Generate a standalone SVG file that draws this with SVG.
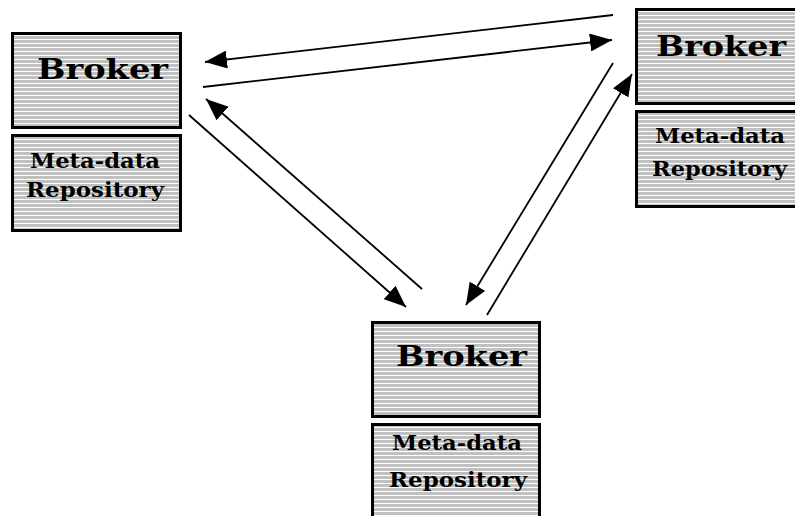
<svg xmlns="http://www.w3.org/2000/svg" width="795" height="516" viewBox="0 0 795 516">
  <defs>
    <!-- horizontal hatching used to fill every box -->
    <pattern id="stripes" patternUnits="userSpaceOnUse" width="4" height="4">
      <rect x="0" y="0" width="4" height="4" fill="#c0c0c0"/>
      <rect x="0" y="3" width="4" height="1" fill="#ffffff"/>
    </pattern>
    <marker id="head" viewBox="0 0 22 18" refX="22" refY="9" markerWidth="22" markerHeight="18" markerUnits="userSpaceOnUse" orient="auto">
      <path d="M0,0 L22,9 L0,18 Z" fill="#000"/>
    </marker>
    <style>
      .box { fill: url(#stripes); stroke: #000; stroke-width: 3; }
      .title { font-family: "DejaVu Serif", "Liberation Serif", serif; font-weight: bold; font-size: 28px; fill: #000; }
      .sub { font-family: "DejaVu Serif", "Liberation Serif", serif; font-weight: bold; font-size: 20px; fill: #000; }
      .link { stroke: #000; stroke-width: 1.8; fill: none; marker-end: url(#head); }
    </style>
  </defs>

  <rect width="795" height="516" fill="#ffffff"/>

  <!-- left broker -->
  <g id="broker-left">
    <rect class="box" x="12.5" y="33.5" width="168" height="94"/>
    <text class="title" x="37" y="79" textLength="131" lengthAdjust="spacingAndGlyphs">Broker</text>
    <rect class="box" x="12.5" y="135.5" width="168" height="95"/>
    <text class="sub" x="30" y="168" textLength="130" lengthAdjust="spacingAndGlyphs">Meta-data</text>
    <text class="sub" x="26" y="197" textLength="138" lengthAdjust="spacingAndGlyphs">Repository</text>
  </g>

  <!-- right broker -->
  <g id="broker-right">
    <rect class="box" x="636.5" y="9.5" width="170" height="94"/>
    <text class="title" x="656" y="56" textLength="130" lengthAdjust="spacingAndGlyphs">Broker</text>
    <rect class="box" x="636.5" y="111.5" width="170" height="95"/>
    <text class="sub" x="655" y="143" textLength="130" lengthAdjust="spacingAndGlyphs">Meta-data</text>
    <text class="sub" x="652" y="176" textLength="135" lengthAdjust="spacingAndGlyphs">Repository</text>
  </g>

  <!-- bottom broker -->
  <g id="broker-bottom">
    <rect class="box" x="372.5" y="322.5" width="167" height="94"/>
    <text class="title" x="396" y="366" textLength="131" lengthAdjust="spacingAndGlyphs">Broker</text>
    <rect class="box" x="372.5" y="424.5" width="167" height="100"/>
    <text class="sub" x="392" y="450" textLength="130" lengthAdjust="spacingAndGlyphs">Meta-data</text>
    <text class="sub" x="389" y="487" textLength="138" lengthAdjust="spacingAndGlyphs">Repository</text>
  </g>

  <!-- message flows between the brokers -->
  <g id="connectors">
    <line class="link" x1="613" y1="15" x2="205" y2="62"/>
    <line class="link" x1="203" y1="87" x2="612" y2="40"/>
    <line class="link" x1="189" y1="115" x2="406" y2="307"/>
    <line class="link" x1="422" y1="289" x2="206" y2="99"/>
    <line class="link" x1="613" y1="63" x2="466" y2="305"/>
    <line class="link" x1="487" y1="315" x2="632" y2="74"/>
  </g>
</svg>
